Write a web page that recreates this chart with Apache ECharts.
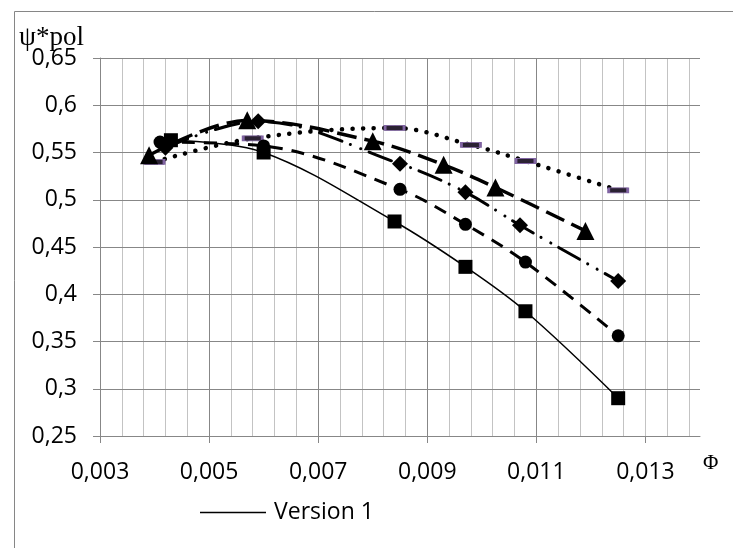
<!DOCTYPE html>
<html>
<head>
<meta charset="utf-8">
<script src="https://cdn.jsdelivr.net/npm/echarts@6/dist/echarts.min.js"></script>
<style>
    html, body {
        margin: 0;
        padding: 0;
        background: #fff;
    }

    #chart {
        width: 733px;
        height: 548px;
    }
</style>
</head>
<body>
<div id="chart"></div>
<script>
// Version 1 - squares, solid
const v1X = [0.0043, 0.0060, 0.0084, 0.0097, 0.0108, 0.0125]
const v1Y = [0.563, 0.550, 0.477, 0.429, 0.382, 0.290]

// circles, dashed
const circleX = [0.0041, 0.0060, 0.0085, 0.0097, 0.0108, 0.0125]
const circleY = [0.561, 0.557, 0.511, 0.474, 0.434, 0.356]

// diamonds, long dash dot dot
const diamondX = [0.0042, 0.0059, 0.0085, 0.0097, 0.0107, 0.0125]
const diamondY = [0.555, 0.583, 0.538, 0.508, 0.473, 0.414]

// triangles, heavy dash
const triangleX = [0.0039, 0.0057, 0.0080, 0.0093, 0.01025, 0.0119]
const triangleY = [0.547, 0.584, 0.562, 0.537, 0.513, 0.467]

// dash markers, round dots
const dashX = [0.0040, 0.0058, 0.0084, 0.0098, 0.0108, 0.0125]
const dashY = [0.540, 0.565, 0.576, 0.558, 0.541, 0.510]

const xTicks = [0.003, 0.005, 0.007, 0.009, 0.011, 0.013]
const legendNames = ['Version 1']

const GRID_DARK = '#878787'
const GRID_LIGHT = '#c3c3c3'
const LABEL_FONT = '"Open Sans", "Noto Sans", sans-serif'

const pairs = (xs, ys) => xs.map((x, i) => [x, ys[i]])

const commaNum = (v, digits) => String(+v.toFixed(digits)).replace('.', ',')

const makeSeries = (name, xs, ys, symbol, size, lineStyle, itemStyle) => {
    return {
        name: name,
        type: 'line',
        smooth: 0.35,
        data: pairs(xs, ys),
        symbol: symbol,
        symbolSize: size,
        lineStyle: lineStyle,
        itemStyle: itemStyle || {color: '#000'},
        emphasis: {disabled: true}
    }
}

let chart = echarts.init(document.getElementById('chart'))
let options = {
    animation: false,
    grid: {
        left: 100,
        top: 58,
        right: 33,
        bottom: 112
    },
    legend: {
        data: [{name: legendNames[0], icon: 'rect'}],
        left: 195,
        top: 496,
        itemWidth: 66,
        itemHeight: 1.5,
        itemGap: 10,
        itemStyle: {color: '#000'},
        textStyle: {
            fontFamily: LABEL_FONT,
            fontSize: 23,
            color: '#000',
            padding: [0, 0, 0, 3]
        }
    },
    xAxis: [
        {
            type: 'value',
            min: 0.003,
            max: 0.014,
            interval: 0.002,
            z: 1,
            axisLine: {lineStyle: {color: GRID_DARK, width: 1}},
            axisTick: {
                show: true,
                length: 7,
                customValues: xTicks,
                lineStyle: {color: GRID_DARK}
            },
            axisLabel: {
                customValues: xTicks,
                margin: 25,
                fontFamily: LABEL_FONT,
                fontSize: 23,
                color: '#000',
                formatter: (v) => commaNum(v, 4)
            },
            splitLine: {
                show: true,
                showMinLine: false,
                showMaxLine: false,
                lineStyle: {color: GRID_DARK, width: 1}
            }
        },
        {
            // minor vertical grid
            type: 'value',
            position: 'top',
            min: 0.003,
            max: 0.014,
            interval: 0.0004,
            z: 0,
            axisLine: {show: false},
            axisTick: {show: false},
            axisLabel: {show: false},
            splitLine: {
                show: true,
                showMinLine: false,
                showMaxLine: false,
                lineStyle: {color: GRID_LIGHT, width: 1}
            }
        }
    ],
    yAxis: {
        type: 'value',
        min: 0.25,
        max: 0.65,
        interval: 0.05,
        z: 1,
        axisLine: {show: true, lineStyle: {color: GRID_DARK, width: 1}},
        axisTick: {show: true, length: 7, lineStyle: {color: GRID_DARK}},
        axisLabel: {
            margin: 23,
            fontFamily: LABEL_FONT,
            fontSize: 23,
            color: '#000',
            formatter: (v) => commaNum(v, 2)
        },
        splitLine: {
            show: true,
            lineStyle: {color: GRID_DARK, width: 1}
        }
    },
    graphic: [
        {
            type: 'rect',
            left: 12,
            top: 9,
            z: -10,
            shape: {width: 740, height: 560},
            style: {fill: 'none', stroke: '#868686', lineWidth: 1}
        },
        {
            type: 'text',
            left: 19,
            top: 24,
            style: {
                text: 'ψ*pol',
                fontFamily: '"Liberation Serif", "DejaVu Serif", serif',
                fontSize: 27,
                fill: '#000'
            }
        },
        {
            type: 'text',
            left: 703,
            top: 453,
            style: {
                text: 'Φ',
                fontFamily: '"Liberation Serif", "DejaVu Serif", serif',
                fontSize: 21,
                fill: '#000'
            }
        }
    ],
    series: [
        makeSeries('dots', dashX, dashY, 'rect', [19, 5],
            {color: '#000', width: 4.5, type: [0.1, 10.5], cap: 'round'},
            {color: '#2b2233', borderColor: '#8064a2', borderWidth: 1.5}),
        makeSeries('triangles', triangleX, triangleY, 'triangle', 18,
            {color: '#000', width: 3.5, type: [20, 8]}),
        makeSeries('diamonds', diamondX, diamondY, 'diamond', 16,
            {color: '#000', width: 3, type: [24, 9, 0.1, 11, 0.1, 9], cap: 'round'}),
        makeSeries('circles', circleX, circleY, 'circle', 13,
            {color: '#000', width: 3, type: [13, 9]}),
        makeSeries(legendNames[0], v1X, v1Y, 'rect', 14,
            {color: '#000', width: 1.5, type: 'solid'})
    ]
}
chart.setOption(options)
</script>
</body>
</html>
